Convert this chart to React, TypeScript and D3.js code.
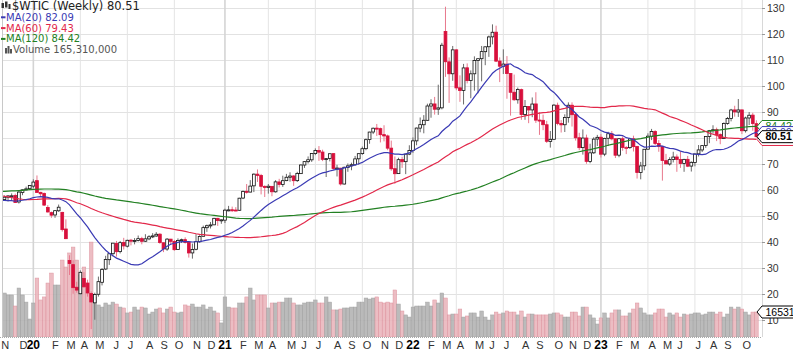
import * as d3 from "d3";
import React, { useEffect, useRef } from "react";

const WIDTH = 793;
const HEIGHT = 352;

// weekly bars, first week ends Fri 2019-11-01, last week ends Fri 2023-11-03
const opens = [
  56.0, 56.3, 57.2, 57.7, 57.9, 55.4, 59.0, 60.2, 60.5,
  61.5, 63.6, 59.1, 58.7, 53.3, 51.3, 50.4, 52.0, 51.4, 45.0, 32.9, 31.3, 22.6, 20.1, 26.0, 24.2, 20.2, 16.6, 19.9, 24.5, 29.6, 33.2,
  35.5, 39.4, 36.3, 39.8, 38.4, 40.7, 40.5, 40.6, 41.3, 40.3, 41.2, 42.0, 42.3, 43.0, 39.7, 37.3, 41.1, 40.2, 37.1, 40.6, 40.9, 39.9,
  35.8, 37.2, 40.1, 42.2, 45.5, 46.3, 46.6, 49.1,
  48.2, 48.4, 52.3, 52.4, 52.3, 52.2, 56.9, 59.5, 59.2, 61.6, 66.1, 65.6, 61.4, 61.0, 61.4, 59.3, 63.1, 62.1, 63.6, 64.9, 65.4, 63.6,
  66.3, 69.6, 70.9, 71.6, 74.0, 75.2, 74.6, 71.8, 72.1, 74.0, 68.3, 68.4, 62.3, 68.7, 69.3, 69.7, 72.0, 74.0, 75.9, 79.4, 82.3, 83.8,
  83.6, 81.3, 80.8, 76.1, 68.2, 66.3, 71.7, 70.9, 73.8,
  75.2, 78.9, 83.8, 85.1, 86.8, 92.3, 93.1, 91.1, 91.6, 121.0, 109.3, 104.7, 113.9, 99.3, 98.3, 107.0, 102.1, 104.7, 109.8, 110.5,
  113.2, 115.1, 118.9, 120.7, 109.6, 107.6, 108.4, 104.8, 97.6, 94.7, 98.6, 89.0, 92.1, 90.8, 93.1, 86.9, 86.8, 85.1, 78.7, 79.5,
  92.6, 85.6, 85.1, 87.9, 92.6, 89.0, 80.1, 76.3, 80.0, 71.0, 74.3, 79.6,
  80.3, 73.8, 79.9, 81.6, 79.7, 73.4, 79.7, 76.3, 76.3, 79.7, 76.7, 66.7, 69.3, 75.7, 80.7, 82.5, 77.9, 76.8, 71.3, 70.0, 71.7, 72.7,
  71.7, 70.2, 71.8, 69.2, 70.6, 73.9, 75.4, 77.1, 80.6, 82.8, 83.2, 81.3, 79.8, 85.6, 87.5, 90.8, 90.0, 90.8, 82.8, 87.7, 88.8, 85.5,
];

const highs = [
  57.9, 57.9, 58.0, 58.7, 58.6, 59.9, 60.2, 61.3, 61.9,
  64.1, 65.6, 59.3, 59.0, 54.2, 51.7, 52.2, 54.4, 51.6, 48.7, 34.9, 33.0, 24.7, 29.1, 28.4, 25.5, 21.0, 20.5, 26.7, 30.0, 34.7, 35.6,
  39.6, 40.4, 40.4, 41.6, 40.9, 41.2, 41.5, 42.5, 42.0, 43.0, 42.6, 43.4, 43.8, 43.4, 39.8, 41.5, 41.2, 40.8, 41.4, 41.3, 41.8, 40.0,
  39.4, 43.0, 42.6, 46.3, 46.7, 47.7, 49.3, 49.3,
  48.7, 52.8, 53.9, 53.6, 53.4, 57.0, 59.8, 62.3, 63.8, 66.4, 67.9, 66.2, 61.8, 62.3, 61.5, 63.8, 64.3, 65.5, 66.2, 66.8, 65.7, 67.0,
  69.8, 71.0, 72.9, 74.2, 76.0, 76.9, 75.5, 72.2, 74.0, 74.0, 69.7, 68.5, 69.0, 70.2, 70.5, 73.1, 74.0, 76.7, 79.8, 82.4, 84.0, 85.4,
  84.0, 84.9, 81.3, 79.0, 72.9, 72.4, 72.8, 74.0, 77.2,
  80.2, 84.0, 87.9, 88.8, 93.2, 94.9, 95.8, 100.5, 116.6, 130.5, 111.0, 115.4, 114.1, 104.1, 108.5, 108.7, 106.0, 111.4, 110.6, 115.4,
  115.2, 119.4, 123.7, 123.2, 111.0, 114.1, 111.5, 105.0, 104.4, 99.4, 99.0, 94.6, 92.3, 95.6, 97.6, 90.0, 89.0, 86.6, 82.7, 93.0,
  93.6, 86.9, 89.1, 93.7, 93.7, 89.9, 82.0, 83.3, 81.3, 77.8, 80.3, 81.2,
  81.5, 80.1, 82.4, 82.7, 79.8, 80.0, 80.6, 76.9, 80.1, 80.9, 77.0, 70.8, 75.7, 81.8, 83.5, 83.0, 79.2, 76.9, 73.9, 72.6, 74.7, 73.7,
  74.8, 72.0, 73.1, 71.0, 74.0, 77.3, 77.2, 80.7, 83.1, 84.9, 84.0, 81.8, 86.0, 88.1, 91.2, 92.4, 95.0, 91.0, 88.2, 90.0, 89.7, 86.8,
];

const lows = [
  53.9, 55.8, 55.6, 55.9, 55.0, 54.8, 58.0, 59.8, 60.2,
  60.7, 58.9, 57.4, 53.9, 51.3, 49.3, 49.3, 51.6, 44.0, 41.1, 27.3, 20.1, 20.5, 19.9, 22.5, 19.0, 6.5, 10.1, 19.0, 23.3, 29.2, 31.2,
  34.5, 34.4, 35.6, 37.1, 37.9, 38.7, 39.1, 40.2, 39.1, 40.0, 40.7, 41.5, 42.0, 39.3, 36.1, 36.6, 39.0, 36.6, 37.0, 39.6, 39.4, 34.0,
  33.6, 36.8, 39.7, 42.1, 43.9, 45.2, 46.5, 46.2,
  47.0, 47.3, 51.8, 51.6, 51.8, 52.0, 56.5, 58.6, 59.1, 59.2, 63.1, 58.3, 57.3, 58.6, 57.6, 59.0, 61.0, 61.2, 63.4, 63.2, 61.6, 63.1,
  66.2, 68.5, 70.2, 70.8, 73.4, 71.2, 71.1, 65.0, 71.0, 67.8, 65.2, 61.7, 62.1, 67.0, 67.6, 69.3, 69.7, 73.5, 75.3, 77.8, 81.5, 80.8,
  78.3, 78.7, 75.3, 67.4, 62.4, 66.2, 68.5, 66.1, 73.4,
  74.3, 77.2, 82.2, 81.8, 86.6, 87.8, 89.0, 88.9, 91.0, 103.5, 93.5, 102.0, 98.4, 93.9, 92.9, 101.0, 95.3, 98.2, 97.2, 101.8,
  108.0, 111.2, 116.0, 109.2, 101.5, 104.6, 95.1, 88.6, 94.3, 93.2, 87.0, 87.0, 85.7, 88.0, 85.8, 81.2, 83.0, 78.1, 76.3, 79.4,
  84.9, 82.1, 82.3, 85.9, 84.4, 79.0, 75.3, 73.6, 70.1, 70.3, 73.9, 76.9,
  72.5, 73.0, 76.9, 79.1, 72.3, 72.6, 75.1, 73.8, 75.8, 74.8, 64.4, 64.1, 67.6, 75.6, 79.2, 77.3, 74.7, 63.6, 70.0, 69.4, 70.6, 67.0,
  68.5, 67.0, 68.8, 67.1, 69.1, 72.9, 74.6, 76.2, 78.0, 81.7, 78.8, 77.6, 79.6, 85.1, 86.4, 88.2, 88.1, 81.5, 82.1, 85.0, 82.8, 80.1,
];

const closes = [
  56.2, 57.24, 57.72, 57.77, 55.17, 59.2, 60.07, 60.44, 61.72,
  63.05, 59.04, 58.54, 54.19, 51.56, 50.32, 52.05, 53.38, 44.76, 41.28, 31.73, 22.43, 21.51, 28.34, 22.76, 20.4, 16.94, 19.78,
  24.74, 29.43, 33.25, 35.49, 39.55, 36.26, 39.75, 38.49, 40.65, 40.55, 40.59, 41.29, 40.27, 41.22, 42.01, 42.34, 42.97, 39.77,
  37.33, 41.11, 40.25, 37.05, 40.6, 40.88, 39.85, 35.79, 37.14, 40.13, 42.15, 45.53, 46.26, 46.57, 49.1, 48.23,
  48.52, 52.24, 52.36, 52.27, 52.2, 56.85, 59.47, 59.24, 61.5, 66.09, 65.61, 61.42, 60.97, 61.45, 59.32, 63.13, 62.14, 63.58,
  64.9, 65.37, 63.58, 66.32, 69.62, 70.91, 71.64, 74.05, 75.16, 74.56, 71.81, 72.07, 73.95, 68.28, 68.44, 62.32, 68.74, 69.29,
  69.72, 71.97, 73.98, 75.88, 79.35, 82.28, 83.76, 83.57, 81.27, 80.79, 76.1, 68.15, 66.26, 71.67, 70.86, 73.79, 75.21,
  78.9, 83.82, 85.14, 86.82, 92.31, 93.1, 91.07, 91.59, 115.68, 109.33, 104.7, 113.9, 99.27, 98.26, 106.95, 102.07, 104.69,
  109.77, 110.49, 113.23, 115.07, 118.87, 120.67, 109.56, 107.62, 108.43, 104.79, 97.59, 94.7, 98.62, 89.01, 92.09, 90.77,
  93.06, 86.87, 86.79, 85.11, 78.74, 79.49, 92.64, 85.61, 85.05, 87.9, 92.61, 88.96, 80.08, 76.28, 79.98, 71.02, 74.29, 79.56, 80.26,
  73.77, 79.86, 81.64, 79.68, 73.39, 79.72, 76.34, 76.32, 79.68, 76.68, 66.74, 69.26, 75.67, 80.7, 82.52, 77.87, 76.78, 71.34,
  70.04, 71.69, 72.67, 71.74, 70.17, 71.78, 69.16, 70.64, 73.86, 75.42, 77.07, 80.58, 82.82, 83.19, 81.25, 79.83, 85.55, 87.51,
  90.77, 90.03, 90.79, 82.79, 87.69, 88.75, 85.54, 80.51,
];

// weekly volume, millions
const volumes = [
  265, 291, 278, 278, 205, 324, 278, 231, 119,
  225, 390, 245, 265, 357, 423, 344, 344, 509, 463, 556, 595, 509, 410, 463, 357, 628, 265, 212, 198, 225, 212,
  231, 218, 198, 192, 159, 165, 198, 179, 198, 192, 152, 165, 185, 192, 159, 185, 198, 165, 159, 165, 212, 205,
  218, 198, 198, 212, 185, 198, 172, 159,
  93, 265, 198, 192, 192, 225, 225, 265, 324, 245, 278, 278, 278, 192, 225, 225, 231, 231, 258, 258, 225, 212,
  212, 225, 231, 231, 245, 225, 225, 265, 231, 179, 179, 185, 192, 192, 198, 198, 231, 231, 258, 251, 258, 265,
  231, 225, 231, 225, 311, 218, 172, 146, 132,
  198, 205, 205, 205, 231, 205, 245, 225, 291, 258, 146, 152, 152, 185, 132, 139, 159, 159, 132, 172,
  132, 112, 146, 165, 152, 159, 172, 165, 165, 146, 172, 132, 152, 152, 146, 146, 146, 146, 152, 159,
  159, 146, 132, 132, 165, 165, 139, 198, 198, 146, 126, 86,
  126, 159, 126, 159, 179, 179, 139, 139, 159, 185, 225, 192, 159, 146, 146, 159, 185, 185, 132, 159, 146, 159,
  132, 152, 146, 152, 159, 159, 146, 152, 165, 165, 152, 165, 132, 152, 198, 185, 198, 185, 165, 146, 165, 165.31,
];

// closes of the 119 weeks before the first bar (Jul 2017 - Oct 2019), used only for the moving averages
const priorCloses = [
  45.77, 49.71, 49.58, 48.82, 48.51, 47.87, 47.29, 47.48, 49.89, 50.66, 51.67, 49.29, 51.45, 51.84, 53.9, 55.64, 56.74, 56.55,
  58.95, 58.36, 57.36, 57.3, 58.47, 60.42,
  61.44, 64.3, 63.37, 66.14, 65.45, 59.2, 61.68, 63.55, 61.25, 62.04, 62.34, 65.88, 64.94, 62.06, 67.39, 68.38, 68.1, 69.72,
  70.7, 71.28, 67.88, 65.81, 65.74, 65.06, 68.58, 74.15, 73.8, 71.01, 70.46, 68.69, 68.49, 67.63, 65.91, 68.72, 69.8, 67.75,
  68.99, 70.78, 73.25, 74.34, 71.34, 69.12, 67.59, 63.14, 60.19, 56.46, 50.42, 50.93, 52.61, 51.2, 45.59, 45.33,
  47.96, 51.59, 53.8, 53.69, 55.26, 52.72, 55.59, 57.26, 55.8, 56.07, 58.52, 59.04, 60.14, 63.08, 63.89, 64.0, 63.3, 61.94,
  61.66, 62.76, 58.63, 53.5, 53.99, 52.51, 57.43, 58.47, 57.51, 60.21, 55.63, 56.2, 55.66, 54.5, 54.87, 54.17, 55.1, 56.52,
  54.85, 58.09, 55.91, 52.81, 54.7, 53.78, 56.66,
];

const priceTicks = [10, 20, 30, 40, 50, 60, 70, 80, 90, 100, 110, 120, 130];
const monthLetters = ["J", "F", "M", "A", "M", "J", "J", "A", "S", "O", "N", "D"];

const maSeries = [
  { period: 120, label: "MA(120)", value: "84.42", color: "#228022" },
  { period: 60, label: "MA(60)", value: "79.43", color: "#e2284a" },
  { period: 20, label: "MA(20)", value: "82.09", color: "#3a3ab4" },
];

const lastClose = "80.51";
const lastVolume = "165,310,000";

export default function App() {
  const ref = useRef<SVGSVGElement | null>(null);

  useEffect(() => {
    const svg = d3.select(ref.current);
    svg.selectAll("*").remove();

    const n = closes.length;
    const plotL = 3;
    const plotR = 762;
    const plotB = 337;

    const x = d3.scaleBand<number>().domain(d3.range(n)).range([-1, 758.2]);
    const step = x.bandwidth();
    const cx = (i: number) => x(i)! + step / 2;
    const y = d3.scaleLinear().domain([10, 130]).range([320, 8]);
    const yVol = d3.scaleLinear().domain([0, 700]).range([plotB, plotB - 105.8]);

    // week dates; a week ending on new year's day trades last on Dec 31
    const firstWeek = new Date(2019, 10, 1);
    const tradeDate = (i: number) => {
      const d = d3.timeDay.offset(firstWeek, 7 * i);
      return d.getMonth() === 0 && d.getDate() === 1 ? d3.timeDay.offset(d, -1) : d;
    };
    const monthStarts: { i: number; m: number; yr: number }[] = [];
    for (let i = 0; i < n; i++) {
      const d = tradeDate(i);
      if (i === 0 || d.getMonth() !== tradeDate(i - 1).getMonth()) {
        monthStarts.push({ i, m: d.getMonth(), yr: d.getFullYear() });
      }
    }

    svg
      .append("defs")
      .append("clipPath")
      .attr("id", "plotClip")
      .append("rect")
      .attr("x", plotL)
      .attr("y", 0)
      .attr("width", plotR - plotL)
      .attr("height", plotB);

    // grid
    const grid = svg.append("g");
    grid
      .selectAll("line.h")
      .data(priceTicks)
      .enter()
      .append("line")
      .attr("x1", plotL)
      .attr("x2", plotR)
      .attr("y1", (d) => Math.round(y(d)) + 0.5)
      .attr("y2", (d) => Math.round(y(d)) + 0.5)
      .attr("stroke", "#e2e2e2");
    grid
      .selectAll("line.v")
      .data(monthStarts.filter((d) => d.i > 0 && d.m % 3 === 0))
      .enter()
      .append("line")
      .attr("x1", (d) => cx(d.i))
      .attr("x2", (d) => cx(d.i))
      .attr("y1", 0)
      .attr("y2", plotB)
      .attr("stroke", (d) => (d.m === 0 ? "#d4d4d4" : "#e4e4e4"))
      .attr("stroke-width", (d) => (d.m === 0 ? 1.6 : 1));

    const prevClose = (i: number) => (i === 0 ? priorCloses[priorCloses.length - 1] : closes[i - 1]);

    // volume
    const plot = svg.append("g").attr("clip-path", "url(#plotClip)");
    plot
      .append("g")
      .selectAll("rect")
      .data(volumes)
      .enter()
      .append("rect")
      .attr("x", (_, i) => cx(i) - step / 2)
      .attr("width", step)
      .attr("y", (d) => yVol(d))
      .attr("height", (d) => plotB - yVol(d))
      .attr("fill", (_, i) => (closes[i] < prevClose(i) ? "#ebb6bd" : "#b4b4b4"))
      .attr("stroke", (_, i) => (closes[i] < prevClose(i) ? "#dc8c98" : "#9c9c9c"))
      .attr("stroke-width", 0.5)
      .attr("opacity", 0.9);

    // candles
    const candles = plot
      .append("g")
      .selectAll("g")
      .data(closes)
      .enter()
      .append("g");
    const isUp = (i: number) => closes[i] >= prevClose(i);
    candles
      .append("line")
      .attr("x1", (_, i) => cx(i))
      .attr("x2", (_, i) => cx(i))
      .attr("y1", (_, i) => y(highs[i]))
      .attr("y2", (_, i) => y(lows[i]))
      .attr("stroke", (_, i) => (isUp(i) ? "#6a6a6a" : "#e8788c"))
      .attr("stroke-width", 1);
    candles
      .append("rect")
      .attr("x", (_, i) => cx(i) - 1.4)
      .attr("width", 2.8)
      .attr("y", (c, i) => y(Math.max(c, opens[i])))
      .attr("height", (c, i) => Math.max(1, Math.abs(y(c) - y(opens[i]))))
      .attr("fill", (c, i) => (c >= opens[i] ? "#fff" : isUp(i) ? "#111" : "#d8103c"))
      .attr("stroke", (_, i) => (isUp(i) ? "#111" : "#d8103c"))
      .attr("stroke-width", 0.8);

    // moving averages
    const all = priorCloses.concat(closes);
    const offset = priorCloses.length;
    maSeries.forEach((s) => {
      const ma = closes.map((_, i) => d3.mean(all.slice(offset + i - s.period + 1, offset + i + 1))!);
      plot
        .append("path")
        .datum(ma)
        .attr("fill", "none")
        .attr("stroke", s.color)
        .attr("stroke-width", 1.2)
        .attr(
          "d",
          d3
            .line<number>()
            .x((_, i) => cx(i))
            .y((d) => y(d))
        );
    });

    // frame
    svg
      .append("line")
      .attr("x1", 2.5)
      .attr("x2", 2.5)
      .attr("y1", 0)
      .attr("y2", plotB)
      .attr("stroke", "#c8c8c8");
    svg
      .append("line")
      .attr("x1", plotR + 0.5)
      .attr("x2", plotR + 0.5)
      .attr("y1", 0)
      .attr("y2", plotB)
      .attr("stroke", "#d8d8d8");
    svg
      .append("line")
      .attr("x1", 0)
      .attr("x2", plotR)
      .attr("y1", plotB + 0.5)
      .attr("y2", plotB + 0.5)
      .attr("stroke", "#aaa")
      .attr("stroke-dasharray", "1,1");

    // right axis
    const axis = svg.append("g");
    axis
      .selectAll("line")
      .data(priceTicks)
      .enter()
      .append("line")
      .attr("x1", plotR)
      .attr("x2", plotR + 3)
      .attr("y1", (d) => Math.round(y(d)) + 0.5)
      .attr("y2", (d) => Math.round(y(d)) + 0.5)
      .attr("stroke", "#999");
    axis
      .selectAll("text")
      .data(priceTicks)
      .enter()
      .append("text")
      .attr("x", 767)
      .attr("y", (d) => y(d) + 3.8)
      .attr("font-family", "Liberation Sans, Arial, sans-serif")
      .attr("font-size", 10.5)
      .attr("fill", "#333")
      .text((d) => d);

    // month labels (none squeezed in at the right edge)
    svg
      .append("g")
      .selectAll("text")
      .data(monthStarts.filter((d) => cx(d.i) < plotR - 12))
      .enter()
      .append("text")
      .attr("x", (d) => (d.m === 0 ? cx(d.i) : cx(d.i) + 0.5))
      .attr("y", 348.5)
      .attr("text-anchor", (d) => (d.m === 0 ? "middle" : "start"))
      .attr("font-family", "Liberation Sans, Arial, sans-serif")
      .attr("font-size", (d) => (d.m === 0 ? 12 : 11))
      .attr("font-weight", (d) => (d.m === 0 ? "bold" : "normal"))
      .attr("fill", (d) => (d.m === 0 ? "#000" : "#333"))
      .text((d) => (d.m === 0 ? String(d.yr).slice(2) : monthLetters[d.m]));

    // value tags on the right edge
    const tag = (yy: number, color: string, text: string, bold: boolean) => {
      const g = svg.append("g");
      g.append("path")
        .attr("d", `M${plotR - 5},${yy} L${plotR},${yy - 6} H${WIDTH + 2} V${yy + 6} H${plotR} Z`)
        .attr("fill", "#fff")
        .attr("stroke", color)
        .attr("stroke-width", 1);
      g.append("text")
        .attr("x", 765.5)
        .attr("y", yy + 3.6)
        .attr("font-family", "Liberation Sans, Arial, sans-serif")
        .attr("font-size", 10.5)
        .attr("font-weight", bold ? "bold" : "normal")
        .attr("fill", color)
        .text(text);
    };
    const tagOrder = [maSeries[0], maSeries[2], maSeries[1]];
    tagOrder.forEach((s) => tag(y(+s.value), s.color, s.value, false));
    tag(y(+lastClose), "#000", lastClose, true);
    tag(yVol(volumes[n - 1]), "#000", lastVolume.replace(/,/g, ""), false);

    // legend
    const legend = svg.append("g").attr("font-family", "DejaVu Sans, Verdana, sans-serif");
    const icon = legend.append("g").attr("fill", "#333");
    icon.append("rect").attr("x", 1.5).attr("y", 3).attr("width", 2.5).attr("height", 5);
    icon.append("rect").attr("x", 5).attr("y", 1.5).attr("width", 2.5).attr("height", 6);
    icon.append("rect").attr("x", 8.5).attr("y", 4).attr("width", 2).attr("height", 5);
    legend
      .append("text")
      .attr("x", 12)
      .attr("y", 10)
      .attr("font-size", 11.5)
      .attr("fill", "#222")
      .text(`$WTIC (Weekly) ${lastClose}`);
    [maSeries[2], maSeries[1], maSeries[0]].forEach((s, k) => {
      const base = 20.8 + k * 10.8;
      legend
        .append("line")
        .attr("x1", 1)
        .attr("x2", 5.5)
        .attr("y1", base - 3.5)
        .attr("y2", base - 3.5)
        .attr("stroke", s.color)
        .attr("stroke-width", 2);
      legend
        .append("text")
        .attr("x", 6)
        .attr("y", base)
        .attr("font-size", 10)
        .attr("fill", s.color)
        .text(`${s.label} ${s.value}`);
    });
    const volIcon = legend.append("g").attr("fill", "#555");
    [
      [5, 48, 2],
      [7.5, 46, 2],
      [10, 49, 2],
    ].forEach(([bx, by, bw]) =>
      volIcon.append("rect").attr("x", bx).attr("y", by).attr("width", bw).attr("height", 53.5 - by)
    );
    legend
      .append("text")
      .attr("x", 13)
      .attr("y", 53.4)
      .attr("font-size", 10)
      .attr("fill", "#555")
      .text(`Volume ${lastVolume}`);
  }, []);

  return (
    <svg
      ref={ref}
      width={WIDTH}
      height={HEIGHT}
      style={{ position: "absolute", left: 0, top: 0, background: "#fff" }}
    />
  );
}
